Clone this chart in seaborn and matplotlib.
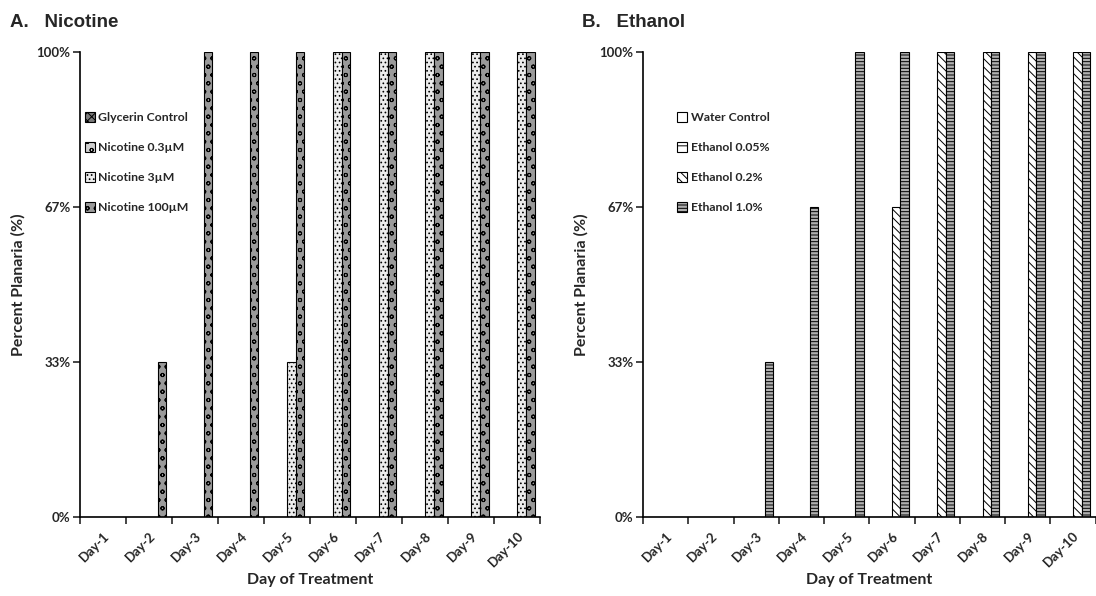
import pandas as pd
import numpy as np
import matplotlib
matplotlib.use("Agg")
import matplotlib.pyplot as plt
from matplotlib.patches import Patch
import seaborn as sns

# data (percent of planaria)
days = ["Day-1", "Day-2", "Day-3", "Day-4", "Day-5", "Day-6", "Day-7", "Day-8", "Day-9", "Day-10"]

nic_groups = ["Glycerin Control", "Nicotine 0.3\u00b5M", "Nicotine 3\u00b5M", "Nicotine 100\u00b5M"]
glycerin_ctrl = [0, 0, 0, 0, 0, 0, 0, 0, 0, 0]
nicotine_03 = [0, 0, 0, 0, 0, 0, 0, 0, 0, 0]
nicotine_3 = [0, 0, 0, 0, 33.3, 100, 100, 100, 100, 100]
nicotine_100 = [0, 33.3, 100, 100, 100, 100, 100, 100, 100, 100]

eth_groups = ["Water Control", "Ethanol 0.05%", "Ethanol 0.2%", "Ethanol 1.0%"]
water_ctrl = [0, 0, 0, 0, 0, 0, 0, 0, 0, 0]
ethanol_005 = [0, 0, 0, 0, 0, 0, 0, 0, 0, 0]
ethanol_02 = [0, 0, 0, 0, 0, 66.7, 100, 100, 100, 100]
ethanol_10 = [0, 0, 33.3, 66.7, 100, 100, 100, 100, 100, 100]

ytick_vals = [0, 33.33, 66.67, 100]
ytick_labels = ["0%", "33%", "67%", "100%"]


def long_df(groups, series):
    rows = []
    for g, vals in zip(groups, series):
        for d, v in zip(days, vals):
            rows.append({"Day": d, "Group": g, "Pct": v})
    return pd.DataFrame(rows)


nic_df = long_df(nic_groups, [glycerin_ctrl, nicotine_03, nicotine_3, nicotine_100])
eth_df = long_df(eth_groups, [water_ctrl, ethanol_005, ethanol_02, ethanol_10])

# bar styles (face colour, hatch)
nic_styles = [("#7a7a7a", "xxxx"), ("#d0d0d0", "oo"), ("#ececec", "...."), ("#9a9a9a", "oo")]
eth_styles = [("white", ""), ("white", "--"), ("white", "\\\\\\\\"), ("#b0b0b0", "-----")]

sns.set_style("white")
plt.rcParams["font.family"] = ["Lato", "DejaVu Sans"]
plt.rcParams["hatch.linewidth"] = 0.7

fig = plt.figure(figsize=(10.96, 5.96), dpi=100)
ax1 = fig.add_axes([0.073, 0.1326, 0.42, 0.780])
ax2 = fig.add_axes([0.5867, 0.1326, 0.413, 0.780])


def draw(ax, df, groups, styles, legend_pos):
    sns.barplot(data=df, x="Day", y="Pct", hue="Group", hue_order=groups, order=days,
                width=0.75, ax=ax, legend=False, saturation=1)
    for cont, (fc, h) in zip(ax.containers, styles):
        for bar in cont:
            bar.set_facecolor(fc)
            bar.set_hatch(h)
            bar.set_edgecolor("black")
            bar.set_linewidth(0.8)
    ax.set_ylim(0, 100)
    ax.set_xlim(-0.5, 9.5)
    ax.set_yticks(ytick_vals)
    ax.set_yticklabels(ytick_labels, fontsize=9.5, fontweight="bold")
    ax.set_xticks(range(len(days)))
    ax.set_xticklabels(days, rotation=45, ha="right", rotation_mode="anchor",
                       fontsize=9.5, fontweight="bold")
    ax.set_xticks(np.arange(-0.5, 10, 1), minor=True)
    ax.tick_params(axis="x", which="major", length=0, pad=9)
    ax.tick_params(axis="x", which="minor", length=5, width=1.2, direction="out", bottom=True)
    ax.tick_params(axis="y", length=5, width=1.2, direction="out", left=True, pad=2)
    for s in ["top", "right"]:
        ax.spines[s].set_visible(False)
    for s in ["left", "bottom"]:
        ax.spines[s].set_linewidth(1.2)
        ax.spines[s].set_color("black")
    ax.set_xlabel("Day of Treatment", fontsize=11.5, fontweight="bold", labelpad=3)
    ax.set_ylabel("Percent Planaria (%)", fontsize=11.5, fontweight="bold", labelpad=8)
    handles = [Patch(facecolor=fc, hatch=h, edgecolor="black", linewidth=0.8) for fc, h in styles]
    ax.legend(handles, groups, loc="upper left", bbox_to_anchor=legend_pos, frameon=False,
              prop={"weight": "bold", "size": 8.8}, handlelength=0.8, handleheight=0.8,
              handletextpad=0.3, labelspacing=1.55, borderaxespad=0)


draw(ax1, nic_df, nic_groups, nic_styles, (0.0, 0.881))
draw(ax2, eth_df, eth_groups, eth_styles, (0.065, 0.881))

fig.text(0.009, 0.955, "A.   Nicotine", fontsize=13.5, fontweight="bold", family="Liberation Sans")
fig.text(0.531, 0.955, "B.   Ethanol", fontsize=13.5, fontweight="bold", family="Liberation Sans")

fig.savefig("out.png", dpi=100)
